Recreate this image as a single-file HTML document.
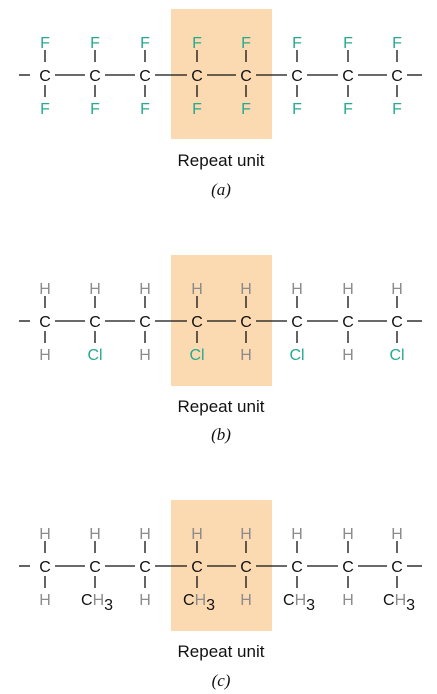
<!DOCTYPE html>
<html><head><meta charset="utf-8"><style>
html,body{margin:0;padding:0;background:#fff;}
svg{display:block;font-family:"Liberation Sans",sans-serif;}
</style></head><body>
<svg id="fig" width="437" height="694" viewBox="0 0 437 694" xmlns="http://www.w3.org/2000/svg"></svg>
<script>
const carbonX = [45, 95, 145, 197, 246, 297, 348, 397];
const panelA = {top:["F","F","F","F","F","F","F","F"], bottom:["F","F","F","F","F","F","F","F"], cy:75, boxTop:9, boxBot:139, label:"(a)", ru:160, lab:189, name:"panel-a"};
const panelB = {top:["H","H","H","H","H","H","H","H"], bottom:["H","Cl","H","Cl","H","Cl","H","Cl"], cy:321, boxTop:255, boxBot:386, label:"(b)", ru:406, lab:434, name:"panel-b"};
const panelC = {top:["H","H","H","H","H","H","H","H"], bottom:["H","CH3","H","CH3","H","CH3","H","CH3"], cy:566, boxTop:500, boxBot:631, label:"(c)", ru:651, lab:680, name:"panel-c"};
const panels=[panelA,panelB,panelC];
const NS="http://www.w3.org/2000/svg";
const svg=document.getElementById('fig');
function mk(tag,attrs,parent){const e=document.createElementNS(NS,tag);for(const k in attrs)e.setAttribute(k,attrs[k]);(parent||svg).appendChild(e);return e;}
const colors={F:"#27a98f",Cl:"#27a98f",H:"#8c8c8c",CH3:"#111"};
panels.forEach(p=>{
  const g=mk('g',{});
  
  
  const box=mk('rect',{x:171,y:p.boxTop,width:101,height:p.boxBot-p.boxTop,fill:"#fbd9b1"},g);
  
  
  const lines=[[19,30]];
  for(let i=0;i<carbonX.length-1;i++)lines.push([carbonX[i]+10,carbonX[i+1]-10]);
  lines.push([carbonX[carbonX.length-1]+10,422]);
  lines.forEach(l=>{const ln=mk('line',{x1:l[0],x2:l[1],y1:p.cy,y2:p.cy,stroke:"#111","stroke-width":1.3},g);
    
    });
  carbonX.forEach((x,i)=>{
    const c=mk('text',{x:x,y:p.cy+6,"text-anchor":"middle","font-size":16,fill:"#111"},g);c.textContent="C";
    
    
    const b1=mk('line',{x1:x,x2:x,y1:p.cy-25,y2:p.cy-13,stroke:"#111","stroke-width":1.3},g);
    
    
    const b2=mk('line',{x1:x,x2:x,y1:p.cy+10,y2:p.cy+22,stroke:"#111","stroke-width":1.3},g);
    
    
    const t=mk('text',{x:x,y:p.cy-27,"text-anchor":"middle","font-size":16,fill:colors[p.top[i]]},g);t.textContent=p.top[i];
    
    
    const s=p.bottom[i];
    let bt;
    if(s==="CH3"){
      bt=mk('text',{x:x-14,y:p.cy+39,"font-size":16,fill:"#111"},g);
      bt.appendChild(document.createTextNode("C"));
      const h=mk('tspan',{fill:"#8c8c8c"},bt);h.textContent="H";
      const n=mk('tspan',{dy:5,fill:"#111"},bt);n.textContent="3";
    } else {
      bt=mk('text',{x:x,y:p.cy+39,"text-anchor":"middle","font-size":16,fill:colors[s]},g);bt.textContent=s;
    }
    
    
  });
  const ru=mk('text',{x:221,y:p.ru+6,"text-anchor":"middle","font-size":17,fill:"#111"},g);ru.textContent="Repeat unit";
  
  
  const lb=mk('text',{x:221,y:p.lab+6,"text-anchor":"middle","font-size":17,"font-style":"italic","font-family":"Liberation Serif, serif",fill:"#111"},g);lb.textContent=p.label;
  
  
});
</script>
</body></html>
